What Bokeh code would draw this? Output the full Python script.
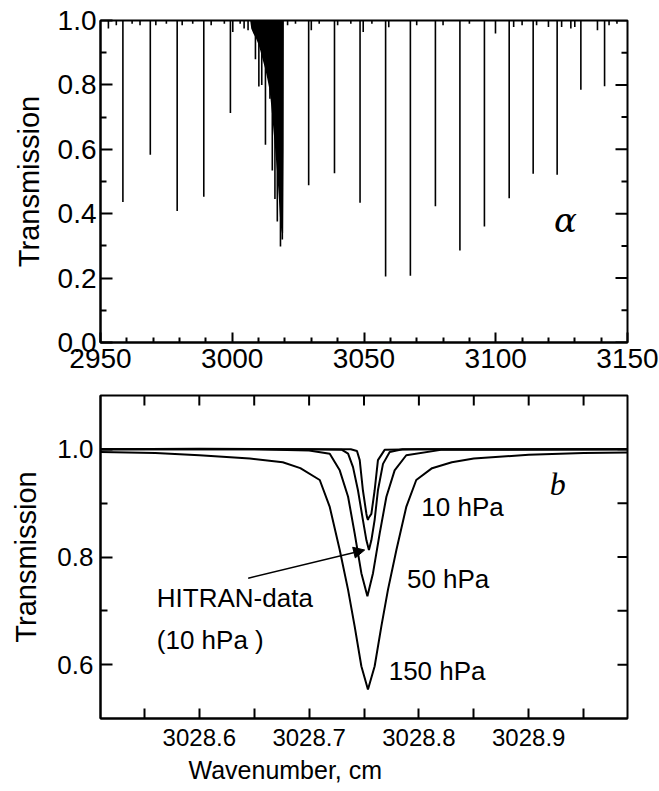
import math
from bokeh.plotting import figure
from bokeh.layouts import column
from bokeh.models import (ColumnDataSource, Label, Arrow, NormalHead,
                          FixedTicker, PrintfTickFormatter, Title)
from bokeh.embed import file_html
from bokeh.resources import INLINE

# ---------------- Panel a: overview spectrum ----------------
# absorption lines: wavenumber (cm-1) and transmission at the line centre
line_x = [2953.0, 2956.0, 2958.5, 2962.0, 2965.0, 2968.9, 2971.0, 2975.0, 2979.1, 2981.0,
          2985.0, 2989.2, 2992.0, 2997.0, 2999.3, 3000.2, 3003.0, 3004.5, 3006.0,
          3021.0, 3024.0, 3029.0, 3030.0, 3033.0, 3038.8, 3040.0, 3045.0, 3048.5,
          3049.7, 3053.0, 3058.2, 3059.4, 3067.6, 3070.0, 3077.1, 3080.0, 3086.4,
          3090.0, 3095.7, 3099.9, 3105.1, 3106.8, 3110.0, 3114.2, 3115.5, 3120.0,
          3123.3, 3125.0, 3128.5, 3130.0, 3132.3, 3138.6, 3141.3, 3143.0, 3146.0]
line_T = [0.975, 0.985, 0.436, 0.990, 0.985, 0.583, 0.985, 0.990, 0.408, 0.985,
          0.990, 0.453, 0.985, 0.990, 0.713, 0.964, 0.990, 0.975, 0.970,
          0.985, 0.990, 0.488, 0.970, 0.990, 0.526, 0.985, 0.990, 0.434,
          0.964, 0.990, 0.205, 0.979, 0.207, 0.985, 0.423, 0.985, 0.286,
          0.990, 0.360, 0.960, 0.448, 0.980, 0.985, 0.524, 0.985, 0.980,
          0.521, 0.980, 0.975, 0.980, 0.785, 0.970, 0.796, 0.985, 0.990]

# Q-branch: envelope of the unresolved band and its resolved deep components
q_env_x = [3006.8, 3007.2, 3008.0, 3009.0, 3010.0, 3010.7, 3011.5, 3012.5, 3013.3, 3014.0,
           3014.5, 3015.2, 3015.8, 3016.4, 3017.1, 3017.6, 3018.1, 3018.6, 3019.0, 3019.3,
           3019.5, 3019.6]
q_env_T = [1.000, 0.975, 0.960, 0.945, 0.925, 0.905, 0.880, 0.850, 0.820, 0.790,
           0.760, 0.700, 0.645, 0.590, 0.520, 0.460, 0.390, 0.350, 0.335, 0.340,
           0.600, 1.000]
q_x = [3008.8, 3010.1, 3011.2, 3012.6, 3014.3, 3015.2, 3016.2, 3017.1, 3018.3, 3019.0]
q_T = [0.880, 0.795, 0.800, 0.614, 0.757, 0.534, 0.446, 0.376, 0.298, 0.320]

a_xrange = [2950, 3150]
a_yrange = [0.0, 1.0]
a_xticks = [2950, 3000, 3050, 3100, 3150]
a_xminor = [2960, 2970, 2980, 2990, 3010, 3020, 3030, 3040, 3060, 3070, 3080, 3090,
            3110, 3120, 3130, 3140]
a_yticks = [0.0, 0.2, 0.4, 0.6, 0.8, 1.0]
a_yminor = [0.1, 0.3, 0.5, 0.7, 0.9]

# ---------------- Panel b: one line at different pressures ----------------
x10 = [3028.51, 3028.60, 3028.70, 3028.738, 3028.7436, 3028.7461, 3028.749, 3028.7522,
       3028.7529, 3028.7536, 3028.7543, 3028.7567, 3028.7597, 3028.7627, 3028.7688,
       3028.80, 3028.90, 3028.99]
T10 = [1.000, 1.001, 1.000, 1.000, 0.997, 0.980, 0.924, 0.880,
       0.873, 0.869, 0.873, 0.880, 0.924, 0.980, 0.999,
       1.000, 1.000, 1.000]

xhit = [3028.51, 3028.70, 3028.730, 3028.7355, 3028.740, 3028.7445, 3028.749, 3028.7522,
        3028.7545, 3028.7567, 3028.7597, 3028.7627, 3028.7673, 3028.7734, 3028.785, 3028.99]
Thit = [1.000, 1.000, 0.999, 0.992, 0.967, 0.924, 0.869, 0.831,
        0.813, 0.831, 0.869, 0.924, 0.973, 0.995, 1.000, 1.000]

x50 = [3028.51, 3028.65, 3028.70, 3028.7188, 3028.7279, 3028.7355, 3028.7415, 3028.7476,
       3028.7531, 3028.7582, 3028.7643, 3028.7704, 3028.7779, 3028.7885, 3028.82, 3028.99]
T50 = [1.000, 1.000, 0.998, 0.992, 0.961, 0.912, 0.844, 0.770,
       0.727, 0.770, 0.844, 0.912, 0.961, 0.989, 0.999, 1.000]

x150 = [3028.51, 3028.56, 3028.60, 3028.646, 3028.676, 3028.692, 3028.7097, 3028.7188,
        3028.7279, 3028.7355, 3028.7415, 3028.7476, 3028.7536, 3028.7597, 3028.7658,
        3028.7718, 3028.7795, 3028.7885, 3028.7976, 3028.812, 3028.83, 3028.85, 3028.90,
        3028.95, 3028.99]
T150 = [0.995, 0.993, 0.989, 0.983, 0.976, 0.965, 0.943, 0.893,
        0.813, 0.739, 0.671, 0.597, 0.554, 0.597, 0.671,
        0.739, 0.813, 0.893, 0.943, 0.965, 0.976, 0.983, 0.990,
        0.993, 0.994]

b_xrange = [3028.51, 3028.99]
b_yrange = [0.5, 1.1]
b_xticks = [3028.6, 3028.7, 3028.8, 3028.9]
b_xminor = [3028.55, 3028.65, 3028.75, 3028.85, 3028.95]
b_yticks = [0.6, 0.8, 1.0]
b_yminor = [0.7, 0.9]

FONT = "Liberation Sans"


def style_axis(ax, major_in, minor_in, label_size, standoff):
    ax.axis_line_width = 2
    ax.axis_line_color = "black"
    ax.major_tick_in = major_in
    ax.major_tick_out = 0
    ax.minor_tick_in = minor_in
    ax.minor_tick_out = 0
    ax.major_tick_line_width = 2
    ax.minor_tick_line_width = 2
    ax.major_tick_line_color = "black"
    ax.minor_tick_line_color = "black"
    ax.major_label_text_font = FONT
    ax.major_label_text_color = "black"
    ax.major_label_text_font_size = label_size
    ax.major_label_standoff = standoff
    ax.axis_label_text_font = FONT
    ax.axis_label_text_font_style = "normal"
    ax.axis_label_text_color = "black"


def mirror_ticks(p, xs, ys, size, vertical):
    # inward tick marks on the opposite frame edges (clipped to the frame)
    p.scatter(x=xs, y=ys, marker="dash", size=size, angle=(math.pi / 2 if vertical else 0),
              line_color="black", line_width=2)


# ---------- figure a ----------
p1 = figure(width=659, height=379, x_range=tuple(a_xrange), y_range=tuple(a_yrange),
            output_backend="svg", toolbar_location=None,
            min_border_left=100, min_border_right=32, min_border_top=20, min_border_bottom=37)
p1.xgrid.visible = False
p1.ygrid.visible = False
p1.outline_line_color = "black"
p1.outline_line_width = 2

p1.xaxis.ticker = FixedTicker(ticks=a_xticks, minor_ticks=a_xminor)
p1.yaxis.ticker = FixedTicker(ticks=a_yticks, minor_ticks=a_yminor)
p1.yaxis.formatter = PrintfTickFormatter(format="%.1f")
style_axis(p1.xaxis[0], 10, 5, "28px", 6)
style_axis(p1.yaxis[0], 12, 6, "28px", 4)
p1.yaxis.axis_label = "Transmission"
p1.yaxis.axis_label_text_font_size = "29px"
p1.yaxis.axis_label_standoff = 10

src_lines = ColumnDataSource(dict(x=line_x, T=line_T))
p1.segment(x0="x", y0=1.0, x1="x", y1="T", source=src_lines, line_color="black", line_width=1.6)
p1.varea(x=q_env_x, y1=q_env_T, y2=[1.0] * len(q_env_x), fill_color="black")
src_q = ColumnDataSource(dict(x=q_x, T=q_T))
p1.segment(x0="x", y0=1.0, x1="x", y1="T", source=src_q, line_color="black", line_width=1.6)

mirror_ticks(p1, [a_xrange[1]] * len(a_yticks), a_yticks, 24, False)
mirror_ticks(p1, [a_xrange[1]] * len(a_yminor), a_yminor, 12, False)

p1.add_layout(Label(x=3126.5, y=0.379, text="α", text_font="DejaVu Serif",
                    text_font_style="italic",
                    text_font_size="34px", text_align="center", text_baseline="middle",
                    text_color="black"))

# ---------- figure b ----------
p2 = figure(width=659, height=412, x_range=tuple(b_xrange), y_range=tuple(b_yrange),
            output_backend="svg", toolbar_location=None,
            min_border_left=100, min_border_right=31, min_border_top=16, min_border_bottom=73)
p2.xgrid.visible = False
p2.ygrid.visible = False
p2.outline_line_color = "black"
p2.outline_line_width = 2

p2.xaxis.ticker = FixedTicker(ticks=b_xticks, minor_ticks=b_xminor)
p2.yaxis.ticker = FixedTicker(ticks=b_yticks, minor_ticks=b_yminor)
p2.yaxis.formatter = PrintfTickFormatter(format="%.1f")
style_axis(p2.xaxis[0], 10, 10, "24px", 10)
style_axis(p2.yaxis[0], 12, 7, "26px", 7)
p2.yaxis.axis_label = "Transmission"
p2.yaxis.axis_label_text_font_size = "29px"
p2.yaxis.axis_label_standoff = 12

for xs, ts in [(x150, T150), (x50, T50), (xhit, Thit), (x10, T10)]:
    p2.line(xs, ts, line_color="black", line_width=2)

mirror_ticks(p2, b_xticks + b_xminor, [b_yrange[1]] * (len(b_xticks) + len(b_xminor)), 20, True)
mirror_ticks(p2, [b_xrange[1]] * (len(b_yticks) + len(b_yminor)), b_yticks + b_yminor, 20, False)

p2.add_layout(Arrow(end=NormalHead(size=11, fill_color="black", line_color="black"),
                    x_start=3028.6445, y_start=0.7606, x_end=3028.7506, y_end=0.813,
                    line_color="black", line_width=1.5))

for txt, x, y in [("10 hPa", 3028.8022, 0.892), ("50 hPa", 3028.7891, 0.759),
                  ("150 hPa", 3028.7725, 0.588), ("HITRAN-data", 3028.5613, 0.7246),
                  ("(10 hPa  )", 3028.5613, 0.645)]:
    p2.add_layout(Label(x=x, y=y, text=txt, text_font=FONT, text_font_size="26px",
                        text_align="left", text_baseline="middle", text_color="black"))

p2.add_layout(Label(x=3028.9264, y=0.9365, text="b", text_font="Liberation Serif",
                    text_font_style="italic", text_font_size="32px", text_align="center",
                    text_baseline="middle", text_color="black"))

xlab = Title(text="Wavenumber, cm", align="left", offset=88, text_font=FONT,
             text_font_size="25px", text_font_style="normal", text_color="black",
             standoff=10)
p2.add_layout(xlab, "below")

layout = column(p1, p2)
open("out.html", "w").write(file_html(layout, INLINE))
